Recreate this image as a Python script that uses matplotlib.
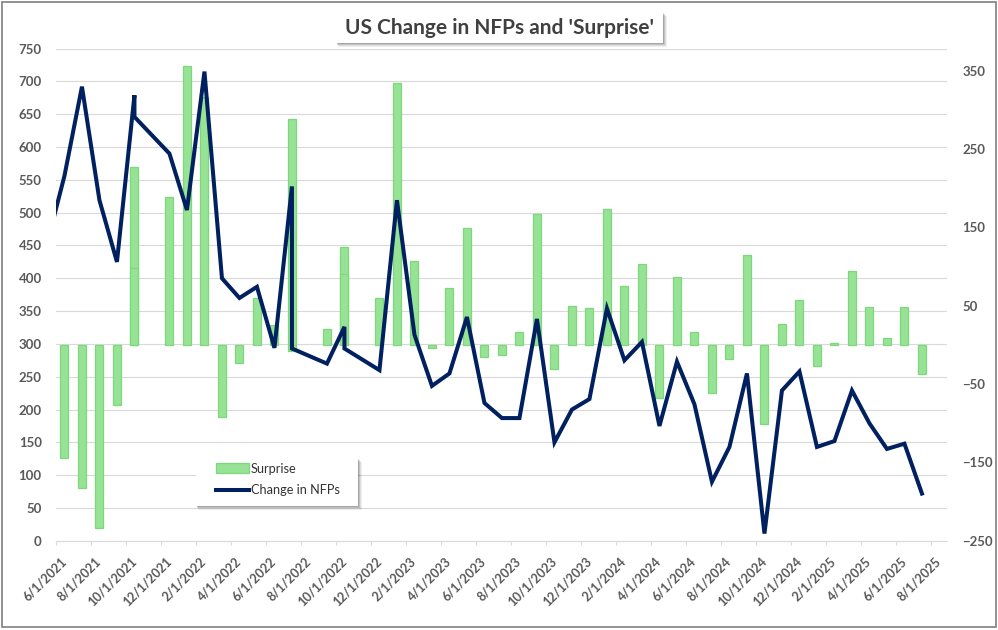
import matplotlib
matplotlib.use("Agg")
import matplotlib.pyplot as plt
from matplotlib.patches import Rectangle, Patch
from matplotlib.lines import Line2D
import matplotlib.transforms as mtransforms

plt.rcParams['font.family'] = ['Lato', 'DejaVu Sans']

# ---------------- data ----------------
# Change in NFPs (left axis, thousands); some releases share a month slot
line_months = ["2021-05", "2021-06", "2021-07", "2021-08", "2021-09", "2021-10", "2021-10",
               "2021-12", "2022-01", "2022-02", "2022-03", "2022-04", "2022-05", "2022-06",
               "2022-07", "2022-07", "2022-09", "2022-10", "2022-10", "2022-12",
               "2023-01", "2023-02", "2023-03", "2023-04", "2023-05", "2023-06", "2023-07",
               "2023-08", "2023-09", "2023-10", "2023-11", "2023-12", "2024-01", "2024-02",
               "2024-03", "2024-04", "2024-05", "2024-06", "2024-07", "2024-08", "2024-09",
               "2024-10", "2024-11", "2024-12", "2025-01", "2025-02", "2025-03", "2025-04",
               "2025-05", "2025-06", "2025-07"]
nfp_change = [452, 556, 692, 519, 425, 679, 646,
              590, 504, 715, 400, 370, 387, 294,
              540, 293, 270, 326, 293, 260,
              519, 314, 236, 255, 341, 210, 187,
              187, 338, 150, 200, 216, 354, 275,
              303, 175, 273, 208, 90, 143, 255,
              11, 229, 258, 143, 152, 229, 179,
              140, 148, 72]

# Surprise (right axis, thousands)
bar_months = ["2021-06", "2021-07", "2021-08", "2021-09", "2021-10", "2021-10",
              "2021-12", "2022-01", "2022-02", "2022-03", "2022-04", "2022-05", "2022-06",
              "2022-07", "2022-07", "2022-09", "2022-10", "2022-10", "2022-12",
              "2023-01", "2023-02", "2023-03", "2023-04", "2023-05", "2023-06", "2023-07",
              "2023-08", "2023-09", "2023-10", "2023-11", "2023-12", "2024-01", "2024-02",
              "2024-03", "2024-04", "2024-05", "2024-06", "2024-07", "2024-08", "2024-09",
              "2024-10", "2024-11", "2024-12", "2025-01", "2025-02", "2025-03", "2025-04",
              "2025-05", "2025-06", "2025-07"]
surprise = [-144, -182, -234, -77, 227, 98,
            189, 356, 316, -92, -23, 60, 25,
            288, -8, 20, 125, 90, 60,
            334, 107, -4, 73, 149, -16, -13,
            17, 167, -31, 49, 47, 173, 75,
            103, -68, 87, 16, -61, -18, 115,
            -101, 27, 57, -27, 2, 94, 48,
            9, 48, -37]

tick_months = ["2021-06", "2021-08", "2021-10", "2021-12", "2022-02", "2022-04", "2022-06",
               "2022-08", "2022-10", "2022-12", "2023-02", "2023-04", "2023-06", "2023-08",
               "2023-10", "2023-12", "2024-02", "2024-04", "2024-06", "2024-08", "2024-10",
               "2024-12", "2025-02", "2025-04", "2025-06", "2025-08"]
tick_labels = ["6/1/2021", "8/1/2021", "10/1/2021", "12/1/2021", "2/1/2022", "4/1/2022",
               "6/1/2022", "8/1/2022", "10/1/2022", "12/1/2022", "2/1/2023", "4/1/2023",
               "6/1/2023", "8/1/2023", "10/1/2023", "12/1/2023", "2/1/2024", "4/1/2024",
               "6/1/2024", "8/1/2024", "10/1/2024", "12/1/2024", "2/1/2025", "4/1/2025",
               "6/1/2025", "8/1/2025"]

title_text = "US Change in NFPs and 'Surprise'"
series_names = ["Surprise", "Change in NFPs"]


def month_index(s):
    y, m = s.split("-")
    return (int(y) - 2021) * 12 + (int(m) - 6)


line_x = [month_index(s) + 0.5 for s in line_months]
bar_x = [month_index(s) + 0.5 for s in bar_months]
tick_x = [month_index(s) for s in tick_months]

# ---------------- figure ----------------
W, H = 998, 630
fig = plt.figure(figsize=(W / 100, H / 100), dpi=100)
fig.patch.set_facecolor('white')

L, R, T, B = 55.7, 947.0, 48.6, 540.8
ax = fig.add_axes([L / W, 1 - B / H, (R - L) / W, (B - T) / H])
ax2 = ax.twinx()   # surprise bars (right axis)
ax3 = ax.twinx()   # NFP line (left scale, drawn on top)

GRID = '#D9D9D9'
TXT = '#595959'
BAR_FC = '#97E395'
BAR_EC = '#7ED77B'
NAVY = '#002060'

xmax = (R - L) / 17.5
for a in (ax, ax2, ax3):
    a.set_xlim(0, xmax)
    for sp in a.spines.values():
        sp.set_visible(False)

ax.set_ylim(0, 750)
ax.set_yticks(range(0, 751, 50))
ax.yaxis.grid(True, color=GRID, linewidth=0.8)
ax.set_axisbelow(True)
ax.spines['bottom'].set_visible(True)
ax.spines['bottom'].set_color(GRID)
ax.spines['bottom'].set_linewidth(0.8)
ax.tick_params(axis='y', length=0, pad=10, labelsize=9.5, labelcolor=TXT)
for lab in ax.get_yticklabels():
    lab.set_fontweight('bold')

ax.set_xticks(tick_x)
ax.set_xticklabels(tick_labels, rotation=45, ha='right', va='center',
                   rotation_mode='anchor', fontsize=9.1, color=TXT, fontweight='bold')
ax.tick_params(axis='x', direction='out', length=3.2, width=0.8, color=GRID, pad=10)
offset = mtransforms.ScaledTranslation(0.085, 0, fig.dpi_scale_trans)
for lab in ax.get_xticklabels():
    lab.set_transform(lab.get_transform() + offset)

ax2.set_ylim(-250, 378)
ax2.set_yticks(range(-250, 351, 100))
ax2.tick_params(axis='y', length=0, pad=11, labelsize=9.5, labelcolor=TXT)
for lab in ax2.get_yticklabels():
    lab.set_fontweight('bold')
ax2.bar(bar_x, surprise, width=0.46, color=BAR_FC, edgecolor=BAR_EC, linewidth=0.9)

ax3.set_ylim(0, 750)
ax3.yaxis.set_visible(False)
ax3.plot(line_x, nfp_change, color=NAVY, linewidth=2.9, solid_joinstyle='miter')


# ---------------- boxes with soft shadows ----------------
def px_rect(x0, y0, x1, y1, **kw):
    return Rectangle((x0 / W, 1 - y1 / H), (x1 - x0) / W, (y1 - y0) / H,
                     transform=fig.transFigure, **kw)


def shadow_box(x0, y0, x1, y1, z):
    for i, al in [(4, 0.06), (3, 0.08), (2, 0.12), (1, 0.15)]:
        fig.add_artist(px_rect(x0 + i * 0.6, y0 + i * 0.9, x1 + i * 0.9, y1 + i * 1.1,
                               facecolor='black', edgecolor='none', alpha=al, zorder=z))
    fig.add_artist(px_rect(x0, y0, x1, y1, facecolor='white', edgecolor='none', zorder=z + 0.1))


# title
shadow_box(336, 12, 663, 43, 5)
fig.text(499.5 / W, 1 - 28 / H, title_text, ha='center', va='center', fontsize=15,
         fontweight='bold', color='#404040', zorder=6)

# legend
shadow_box(196, 458, 358, 506, 5)
handles = [Patch(facecolor=BAR_FC, edgecolor=BAR_EC, linewidth=0.9),
           Line2D([0], [0], color=NAVY, linewidth=2.9)]
leg = fig.legend(handles, series_names, loc='upper left',
                 bbox_to_anchor=(213 / W, 1 - 460 / H), frameon=False, fontsize=9.2,
                 handlelength=2.6, handleheight=0.75, handletextpad=0.15,
                 labelspacing=0.75, borderpad=0.2, borderaxespad=0)
leg.set_zorder(7)
for t in leg.get_texts():
    t.set_color('#333333')

# outer border
fig.add_artist(px_rect(1.5, 1.5, 995.5, 626.5, facecolor='none', edgecolor='#7f7f7f',
                       linewidth=1.2, zorder=10))

fig.savefig('out.png', dpi=100, facecolor='white')
